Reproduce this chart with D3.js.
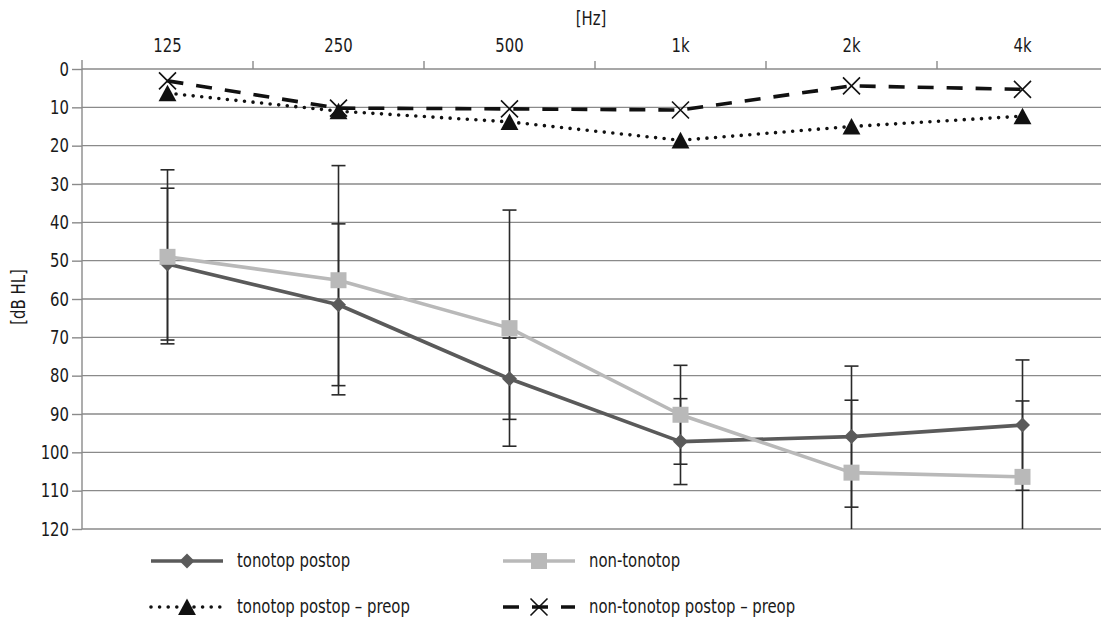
<!DOCTYPE html>
<html>
<head>
<meta charset="utf-8">
<script src="https://cdn.jsdelivr.net/npm/d3@7"></script>
<style>
  html, body { margin: 0; padding: 0; background: #fff; }
  svg { display: block; }
  text { font-family: "DejaVu Sans Condensed", "Liberation Sans Narrow", "DejaVu Sans", sans-serif; font-stretch: condensed; fill: #1a1a1a; }
</style>
</head>
<body>
<svg id="chart" width="1101" height="620"></svg>
<script>
// ---- data ----
const categories = ["125", "250", "500", "1k", "2k", "4k"];
const yTicks = [0, 10, 20, 30, 40, 50, 60, 70, 80, 90, 100, 110, 120];

const tonotopPostop     = [50.9, 61.5, 80.8, 97.2, 95.9, 92.9];
const tonotopPostopErr  = [19.8, 21.1, 10.6, 11.2, 18.4, 17.0];
const nonTonotop        = [49.0, 55.1, 67.6, 90.2, 105.3, 106.4];
const nonTonotopErr     = [22.7, 29.9, 30.8, 12.9, 18.9, 19.8];
const tonotopDiff       = [6.3, 11.0, 13.8, 18.6, 15.0, 12.3];
const nonTonotopDiff    = [3.1, 10.2, 10.4, 10.7, 4.4, 5.3];

const seriesNames = ["tonotop postop", "non-tonotop", "tonotop postop – preop", "non-tonotop postop – preop"];
const xTitle = "[Hz]";
const yTitle = "[dB HL]";

// ---- layout ----
const svg = d3.select("#chart");
const plotLeft = 82, plotTop = 69, plotBottom = 529;
const bandW = 171;
const x = d3.scaleBand().domain(categories).range([plotLeft, plotLeft + bandW * categories.length]).padding(0);
const y = d3.scaleLinear().domain([0, 120]).range([plotTop, plotBottom]);
const cx = c => x(c) + x.bandwidth() / 2;

const gridColor = "#8a8a8a";
const darkGray = "#5a5a5a";
const lightGray = "#b9b9b9";
const fontSize = "19px";
const squeeze = 0.87;

// horizontally condense text (reference uses a condensed face)
function condense(sel) {
  sel.each(function () {
    const t = d3.select(this);
    const ax = +t.attr("x") || 0;
    const prev = t.attr("transform") || "";
    t.attr("x", 0).attr("transform", `${prev} translate(${ax},0) scale(${squeeze},1)`);
  });
}

svg.append("defs").append("clipPath").attr("id", "plotClip")
  .append("rect").attr("x", plotLeft).attr("y", plotTop - 20)
  .attr("width", 1101 - plotLeft).attr("height", plotBottom - plotTop + 20);

// gridlines
svg.append("g").selectAll("line").data(yTicks).join("line")
  .attr("x1", plotLeft).attr("x2", x.range()[1])
  .attr("y1", d => y(d)).attr("y2", d => y(d))
  .attr("stroke", gridColor).attr("stroke-width", 1.4);

// left axis
const yAxis = d3.axisLeft(y).tickValues(yTicks).tickSize(10).tickPadding(3);
const gy = svg.append("g").attr("transform", `translate(${plotLeft},0)`).call(yAxis);
gy.select(".domain").remove();
gy.selectAll(".tick line").attr("stroke", gridColor).attr("stroke-width", 1.4);
gy.selectAll(".tick text").style("font-size", fontSize).attr("fill", "#1a1a1a").call(condense);
svg.append("line").attr("x1", plotLeft).attr("x2", plotLeft)
  .attr("y1", plotTop - 9).attr("y2", plotBottom)
  .attr("stroke", gridColor).attr("stroke-width", 1.4);

// top axis: labels at band centres, ticks at band boundaries
const xAxis = d3.axisTop(x).tickSize(0).tickPadding(17);
const gx = svg.append("g").attr("transform", `translate(0,${plotTop})`).call(xAxis);
gx.select(".domain").remove();
gx.selectAll(".tick text").style("font-size", fontSize).attr("fill", "#1a1a1a").call(condense);
svg.append("g").selectAll("line").data(categories.slice(1)).join("line")
  .attr("x1", d => x(d)).attr("x2", d => x(d))
  .attr("y1", plotTop - 8).attr("y2", plotTop)
  .attr("stroke", gridColor).attr("stroke-width", 1.4);

svg.selectAll("g").attr("font-family", null).attr("font-size", null);

// axis titles
svg.append("text").attr("x", 591).attr("y", 25).attr("text-anchor", "middle")
  .style("font-size", fontSize).text(xTitle).call(condense);
svg.append("text").attr("transform", `translate(25,297) rotate(-90)`)
  .attr("text-anchor", "middle").style("font-size", fontSize).text(yTitle).call(condense);

const plot = svg.append("g").attr("clip-path", "url(#plotClip)");

// error bars
function errorBars(vals, errs) {
  const g = plot.append("g");
  categories.forEach((c, i) => {
    const lo = vals[i] - errs[i], hi = vals[i] + errs[i];
    g.append("line").attr("x1", cx(c)).attr("x2", cx(c))
      .attr("y1", y(lo)).attr("y2", y(hi))
      .attr("stroke", "#2a2a2a").attr("stroke-width", 1.6);
    [lo, hi].forEach(v => {
      g.append("line").attr("x1", cx(c) - 7).attr("x2", cx(c) + 7)
        .attr("y1", y(v)).attr("y2", y(v))
        .attr("stroke", "#2a2a2a").attr("stroke-width", 1.6);
    });
  });
}
errorBars(tonotopPostop, tonotopPostopErr);
errorBars(nonTonotop, nonTonotopErr);

// marker path generators (centred on bounding box)
const markers = {
  diamond: r => `M0,${-r}L${r},0L0,${r}L${-r},0Z`,
  square: r => `M${-r},${-r}H${r}V${r}H${-r}Z`,
  triangle: r => `M0,${-r}L${r * 1.05},${r * 0.95}L${-r * 1.05},${r * 0.95}Z`,
  cross: r => `M${-r},${-r}L${r},${r}M${r},${-r}L${-r},${r}`
};

const series = [
  { name: seriesNames[0], vals: tonotopPostop, color: darkGray, dash: null, cap: "butt", marker: "diamond", r: 7.5, fill: darkGray, mstroke: null },
  { name: seriesNames[1], vals: nonTonotop, color: lightGray, dash: null, cap: "butt", marker: "square", r: 8, fill: lightGray, mstroke: null },
  { name: seriesNames[2], vals: tonotopDiff, color: "#111", dash: "0,8.6", cap: "round", marker: "triangle", r: 8.5, fill: "#111", mstroke: null },
  { name: seriesNames[3], vals: nonTonotopDiff, color: "#111", dash: "16,13", cap: "butt", marker: "cross", r: 8.5, fill: "none", mstroke: "#111" }
];

const line = d3.line().x((d, i) => cx(categories[i])).y(d => y(d));

series.forEach(s => {
  plot.append("path").datum(s.vals).attr("d", line)
    .attr("fill", "none").attr("stroke", s.color).attr("stroke-width", 3.6)
    .attr("stroke-linecap", s.cap).attr("stroke-linejoin", "round")
    .attr("stroke-dasharray", s.dash);
});
series.forEach(s => {
  plot.append("g").selectAll("path").data(s.vals).join("path")
    .attr("transform", (d, i) => `translate(${cx(categories[i])},${y(d)})`)
    .attr("d", markers[s.marker](s.r))
    .attr("fill", s.fill)
    .attr("stroke", s.mstroke)
    .attr("stroke-width", s.mstroke ? 1.6 : null);
});

// legend
const legendPos = [
  { x0: 151, row: 561 },
  { x0: 503, row: 561 },
  { x0: 151, row: 607 },
  { x0: 503, row: 607 }
];
series.forEach((s, i) => {
  const p = legendPos[i];
  const g = svg.append("g");
  g.append("line").attr("x1", p.x0).attr("x2", p.x0 + 72)
    .attr("y1", p.row).attr("y2", p.row)
    .attr("stroke", s.color).attr("stroke-width", 3.6)
    .attr("stroke-linecap", s.cap).attr("stroke-dasharray", s.dash);
  g.append("path").attr("transform", `translate(${p.x0 + 36},${p.row})`)
    .attr("d", markers[s.marker](s.r))
    .attr("fill", s.fill === "none" ? "#fff" : s.fill)
    .attr("stroke", s.mstroke).attr("stroke-width", s.mstroke ? 1.6 : null);
  g.append("text").attr("x", p.x0 + 86).attr("y", p.row + 6)
    .style("font-size", fontSize).text(s.name).call(condense);
});
</script>
</body>
</html>
